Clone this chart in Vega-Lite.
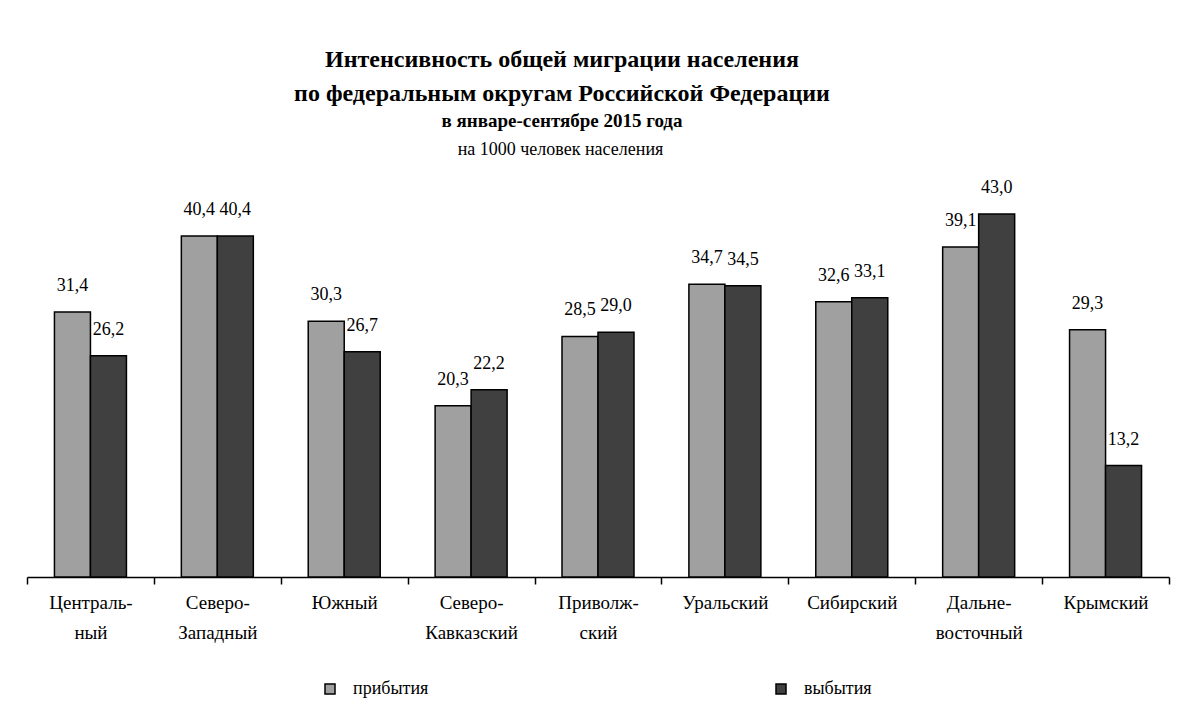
{
  "$schema": "https://vega.github.io/schema/vega-lite/v6.json",
  "width": 1142,
  "height": 422,
  "autosize": {"type": "none"},
  "padding": {"left": 27, "top": 155, "right": 13, "bottom": 140},
  "background": "white",
  "config": {
    "locale": {"number": {"decimal": ",", "thousands": " ", "grouping": [3], "currency": ["", ""]}},
    "view": {"stroke": null},
    "font": "Liberation Serif, Times New Roman, DejaVu Serif, serif"
  },
  "title": {
    "text": ["Интенсивность общей миграции населения", "по федеральным округам Российской Федерации"],
    "subtitle": "в январе-сентябре 2015 года",
    "font": "Liberation Serif, Times New Roman, DejaVu Serif, serif",
    "fontSize": 24,
    "fontWeight": "bold",
    "lineHeight": 34,
    "color": "black",
    "subtitleFont": "Liberation Serif, Times New Roman, DejaVu Serif, serif",
    "subtitleFontSize": 19,
    "subtitleFontWeight": "bold",
    "subtitleColor": "black",
    "subtitlePadding": 6,
    "anchor": "middle",
    "frame": "group",
    "dx": -36,
    "offset": 9
  },
  "data": {
    "values": [
      {"okrug": "Централь-\nный", "type": "прибытия", "value": 31.4},
      {"okrug": "Централь-\nный", "type": "выбытия", "value": 26.2},
      {"okrug": "Северо-\nЗападный", "type": "прибытия", "value": 40.4},
      {"okrug": "Северо-\nЗападный", "type": "выбытия", "value": 40.4},
      {"okrug": "Южный", "type": "прибытия", "value": 30.3},
      {"okrug": "Южный", "type": "выбытия", "value": 26.7},
      {"okrug": "Северо-\nКавказский", "type": "прибытия", "value": 20.3},
      {"okrug": "Северо-\nКавказский", "type": "выбытия", "value": 22.2},
      {"okrug": "Приволж-\nский", "type": "прибытия", "value": 28.5},
      {"okrug": "Приволж-\nский", "type": "выбытия", "value": 29.0},
      {"okrug": "Уральский", "type": "прибытия", "value": 34.7},
      {"okrug": "Уральский", "type": "выбытия", "value": 34.5},
      {"okrug": "Сибирский", "type": "прибытия", "value": 32.6},
      {"okrug": "Сибирский", "type": "выбытия", "value": 33.1},
      {"okrug": "Дальне-\nвосточный", "type": "прибытия", "value": 39.1},
      {"okrug": "Дальне-\nвосточный", "type": "выбытия", "value": 43.0},
      {"okrug": "Крымский", "type": "прибытия", "value": 29.3},
      {"okrug": "Крымский", "type": "выбытия", "value": 13.2}
    ]
  },
  "encoding": {
    "x": {
      "field": "okrug",
      "type": "nominal",
      "sort": null,
      "scale": {"paddingInner": 0, "paddingOuter": 0},
      "axis": {
        "title": null,
        "tickBand": "extent",
        "labelAngle": 0,
        "labelFont": "Liberation Serif, Times New Roman, DejaVu Serif, serif",
        "labelFontSize": 19,
        "labelLineHeight": 30,
        "labelPadding": 9,
        "labelColor": "black",
        "tickSize": 7,
        "tickColor": "black",
        "tickWidth": 1.5,
        "domainColor": "black",
        "domainWidth": 1.5,
        "labelExpr": "split(datum.label, '\\n')"
      }
    },
    "xOffset": {
      "field": "type",
      "type": "nominal",
      "sort": ["прибытия", "выбытия"],
      "scale": {"paddingInner": 0, "paddingOuter": 0.7625}
    },
    "y": {
      "field": "value",
      "type": "quantitative",
      "scale": {"domain": [0, 50], "nice": false},
      "axis": {
        "title": "на 1000 человек населения",
        "titleAngle": 0,
        "titleX": 533,
        "titleY": -1,
        "titleAlign": "center",
        "titleBaseline": "alphabetic",
        "titleFont": "Liberation Serif, Times New Roman, DejaVu Serif, serif",
        "titleFontSize": 18,
        "titleFontWeight": "normal",
        "titleColor": "black",
        "labels": false,
        "ticks": false,
        "domain": false,
        "grid": false
      }
    }
  },
  "layer": [
    {
      "mark": {"type": "bar", "stroke": "black", "strokeWidth": 1.5},
      "encoding": {
        "color": {
          "field": "type",
          "type": "nominal",
          "scale": {"domain": ["прибытия", "выбытия"], "range": ["#A0A0A0", "#404040"]},
          "legend": {
            "title": null,
            "orient": "none",
            "legendX": 294,
            "legendY": 525,
            "direction": "horizontal",
            "columns": 2,
            "columnPadding": 343,
            "padding": 0,
            "symbolType": "square",
            "symbolSize": 100,
            "symbolStrokeColor": "black",
            "symbolStrokeWidth": 1.5,
            "symbolOpacity": 1,
            "labelFont": "Liberation Serif, Times New Roman, DejaVu Serif, serif",
            "labelFontSize": 18,
            "labelColor": "black",
            "labelOffset": 14
          }
        }
      }
    },
    {
      "mark": {"type": "text", "dy": -26, "fontSize": 18, "font": "Liberation Serif, Times New Roman, DejaVu Serif, serif", "color": "black"},
      "encoding": {
        "text": {"field": "value", "type": "quantitative", "format": ".1f"}
      }
    }
  ]
}
